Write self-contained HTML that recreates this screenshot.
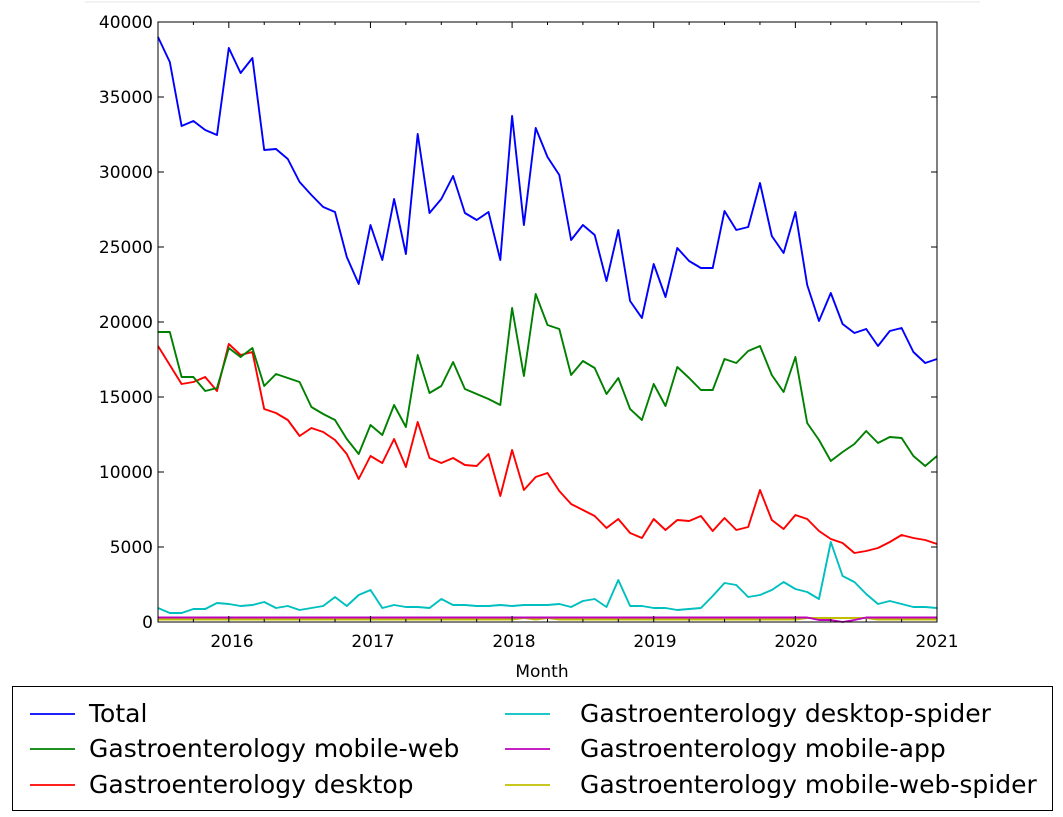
<!DOCTYPE html>
<html><head><meta charset="utf-8"><style>
html,body{margin:0;padding:0;background:#fff;}
svg{display:block;font-family:"DejaVu Sans","Liberation Sans",sans-serif;}
</style></head><body>
<svg id="s" width="1063" height="817" viewBox="0 0 1063 817" xmlns="http://www.w3.org/2000/svg">
<rect width="1063" height="817" fill="#fff"/>
<line x1="85" y1="2" x2="980" y2="2" stroke="#e4e4e4" stroke-width="1"/>
<g id="lines" fill="none" stroke-width="1.9" stroke-linejoin="round"></g>
<rect x="158" y="22" width="779" height="600" fill="none" stroke="#000" stroke-width="1"/>
<g id="ticks" stroke="#000" stroke-width="1"></g>
<g font-size="17" fill="#000" text-anchor="end">
<text x="153" y="28">40000</text><text x="153" y="103">35000</text><text x="153" y="178">30000</text>
<text x="153" y="253">25000</text><text x="153" y="328">20000</text><text x="153" y="403">15000</text>
<text x="153" y="478">10000</text><text x="153" y="553">5000</text><text x="153" y="628">0</text>
</g>
<g font-size="17" fill="#000" text-anchor="middle">
<text x="232" y="647">2016</text><text x="373" y="647">2017</text><text x="514" y="647">2018</text>
<text x="655" y="647">2019</text><text x="796" y="647">2020</text><text x="937" y="647">2021</text>
<text x="542" y="677">Month</text>
</g>
<rect x="12.5" y="686.5" width="1040" height="124" fill="#fff" stroke="#000" stroke-width="1"/>
<g stroke-width="1.8">
<line x1="30" y1="714" x2="75" y2="714" stroke="#0000ff"/>
<line x1="30" y1="749" x2="75" y2="749" stroke="#008000"/>
<line x1="30" y1="785" x2="75" y2="785" stroke="#ff0000"/>
<line x1="505" y1="714" x2="550" y2="714" stroke="#00bfbf"/>
<line x1="505" y1="749" x2="550" y2="749" stroke="#bf00bf"/>
<line x1="505" y1="785" x2="550" y2="785" stroke="#bfbf00"/>
</g>
<g font-size="25" fill="#000">
<text x="89" y="722">Total</text>
<text x="89" y="757">Gastroenterology mobile-web</text>
<text x="89" y="793">Gastroenterology desktop</text>
<text x="580" y="722">Gastroenterology desktop-spider</text>
<text x="580" y="757">Gastroenterology mobile-app</text>
<text x="580" y="793">Gastroenterology mobile-web-spider</text>
</g>
</svg>
<script>
var blue=[37,62,126,121,130,135,48,73,58,150,149,159,182,195,207,212,257,284,225,260,199,254,134,213,199,176,213,220,212,260,116,225,128,157,175,240,225,235,281,230,301,318,264,297,248,261,268,268,211,230,227,183,236,253,212,285,321,293,324,333,329,346,331,328,352,363,359];
var green=[332,332,377,377,391,388,348,357,348,386,374,378,382,407,414,420,439,454,425,435,405,427,355,393,386,362,389,394,399,405,308,376,294,325,329,375,361,368,394,378,409,420,384,406,367,378,390,390,359,363,351,346,375,392,357,423,440,461,452,444,431,443,437,438,456,466,456];
var red=[346,365,384,382,377,391,344,355,352,409,413,420,436,428,432,440,454,479,456,463,439,467,422,458,463,458,465,466,454,496,450,490,477,473,491,504,510,516,528,519,533,538,519,530,520,521,516,531,518,530,527,490,520,529,515,519,531,539,543,553,551,548,542,535,538,540,544];
var cyan=[608,613,613,609,609,603,604,606,605,602,608,606,610,608,606,597,606,595,590,608,605,607,607,608,599,605,605,606,606,605,606,605,605,605,604,607,601,599,607,580,606,606,608,608,610,609,608,596,583,585,597,595,590,582,589,592,599,542,576,582,594,604,601,604,607,607,608];
var mag=[],yel=[];
for(var i=0;i<67;i++){mag.push(i>=56&&i<=59?(i==58?622:620):617.5);yel.push(i==33||i==31?618:(i>=55&&i<=60?618:619.5));}
function pts(a){return a.map(function(y,i){return (158+i*779/66).toFixed(1)+","+y;}).join(" ");}
var g=document.getElementById("lines"),ns="http://www.w3.org/2000/svg";
[[yel,"#bfbf00"],[mag,"#bf00bf"],[cyan,"#00bfbf"],[red,"#ff0000"],[green,"#008000"],[blue,"#0000ff"]].forEach(function(s){var p=document.createElementNS(ns,"polyline");p.setAttribute("points",pts(s[0]));p.setAttribute("stroke",s[1]);g.appendChild(p);});
var t=document.getElementById("ticks");
function ln(x1,y1,x2,y2){var l=document.createElementNS(ns,"line");l.setAttribute("x1",x1);l.setAttribute("y1",y1);l.setAttribute("x2",x2);l.setAttribute("y2",y2);t.appendChild(l);}
for(var k=0;k<=8;k++){var y=22+k*75;ln(158,y,164,y);ln(931,y,937,y);}
for(var m=0;m<=66;m+=3){var x=158+m*779/66;var len=((m-6)%12==0)?6:3;ln(x,622,x,622-len);ln(x,22,x,22+len);}
</script>
</body></html>
